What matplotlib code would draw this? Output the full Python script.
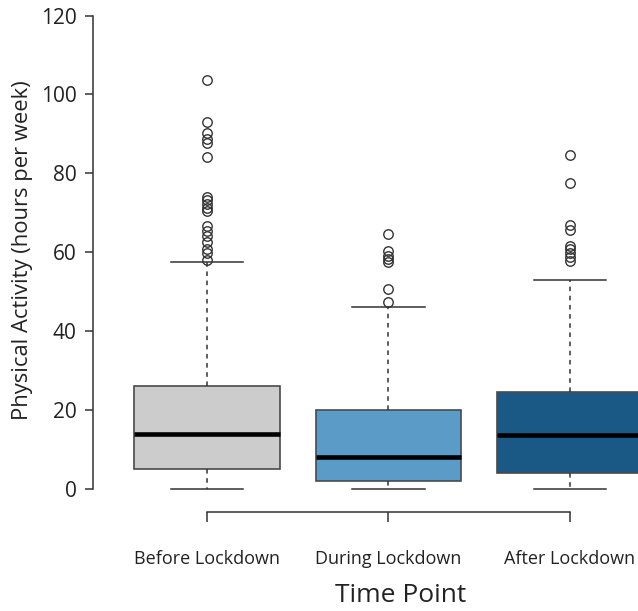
import matplotlib
matplotlib.use("Agg")
import matplotlib.pyplot as plt
import numpy as np

categories = ["Before Lockdown", "During Lockdown", "After Lockdown"]
whisker_low = [0.0, 0.0, 0.0]
q1 = [5.0, 2.0, 4.0]
median = [14.0, 8.1, 13.7]
q3 = [26.1, 20.0, 24.6]
whisker_high = [57.6, 46.2, 53.0]
outliers_before = [103.6, 93.1, 90.3, 88.6, 87.6, 84.2, 74.0, 73.2, 72.3, 71.2,
                   70.4, 66.6, 65.3, 64.0, 62.5, 60.8, 59.8, 58.0]
outliers_during = [64.7, 60.2, 59.0, 58.2, 57.6, 50.7, 47.3]
outliers_after = [84.7, 77.6, 66.8, 65.7, 61.7, 60.7, 59.8, 58.9, 57.9]
outliers = [outliers_before, outliers_during, outliers_after]
colors = ["#CCCCCC", "#5B9BC8", "#1A5886"]
y_ticks = [0, 20, 40, 60, 80, 100, 120]

plt.rcParams['font.family'] = ['Open Sans', 'DejaVu Sans']

W, H = 638, 611
fig = plt.figure(figsize=(W / 100, H / 100), dpi=100)

left_px, right_px = 93, 682.5
y0_px, y120_px = 489, 15.5
ax = fig.add_axes([left_px / W, (H - y0_px) / H, (right_px - left_px) / W,
                   (y0_px - y120_px) / H])

stats = []
for i in range(3):
    stats.append(dict(med=median[i], q1=q1[i], q3=q3[i], whislo=whisker_low[i],
                      whishi=whisker_high[i], fliers=outliers[i], label=categories[i]))

bp = ax.bxp(stats, positions=[1, 2, 3], widths=0.8, patch_artist=True,
            showfliers=True,
            boxprops=dict(edgecolor="#4a4a4a", linewidth=1.2),
            medianprops=dict(color="black", linewidth=3.3, solid_capstyle="butt"),
            whiskerprops=dict(color="#333333", linewidth=1.1, linestyle=(0, (3, 3))),
            capprops=dict(color="#333333", linewidth=1.1),
            flierprops=dict(marker="o", markerfacecolor="none", markeredgecolor="#333333",
                            markersize=6.8, markeredgewidth=1.0, linestyle="none"),
            capwidths=0.4)
for patch, c in zip(bp["boxes"], colors):
    patch.set_facecolor(c)
for art in bp["fliers"] + bp["whiskers"] + bp["caps"] + bp["medians"] + bp["boxes"]:
    art.set_clip_on(False)

ax.set_xlim(0.372, 3.62)
ax.set_ylim(0, 120)

for s in ["top", "right"]:
    ax.spines[s].set_visible(False)
ax.spines["left"].set_bounds(0, 120)
ax.spines["bottom"].set_bounds(1, 3)
ax.spines["bottom"].set_position(("outward", 23 * 0.72))
ax.spines["left"].set_color("#333333")
ax.spines["bottom"].set_color("#333333")
ax.spines["left"].set_linewidth(1.1)
ax.spines["bottom"].set_linewidth(1.1)

ax.set_yticks(y_ticks)
ax.set_yticklabels([str(t) for t in y_ticks])
ax.set_xticks([1, 2, 3])
ax.set_xticklabels(categories)
ax.tick_params(axis="y", direction="out", length=5.8, width=1.1, color="#333333",
               labelsize=15, labelcolor="#222222", pad=6)
ax.tick_params(axis="x", direction="out", length=7.0, width=1.1, color="#333333",
               labelsize=13, labelcolor="#222222", pad=20)

fig.text(23 / W, 1 - 250 / H, "Physical Activity (hours per week)", rotation=90,
         ha="center", va="center", fontsize=15.8, color="#222222")
fig.text(401 / W, 1 - 596 / H, "Time Point", ha="center", va="center",
         fontsize=19, color="#222222")

fig.savefig("out.png", dpi=100)
